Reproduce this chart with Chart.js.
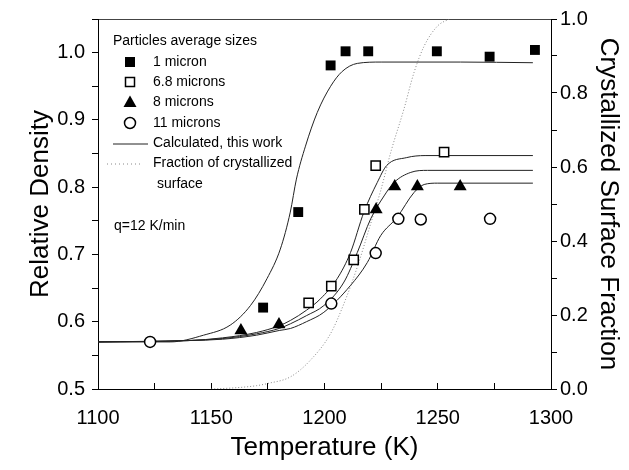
<!DOCTYPE html>
<html>
<head>
<meta charset="utf-8">
<script src="https://cdn.jsdelivr.net/npm/chart.js@4.4.1/dist/chart.umd.min.js"></script>
<style>
    html, body { margin: 0; padding: 0; background: #fff; }
    #wrap { width: 629px; height: 470px; }
</style>
</head>
<body>
<div id="wrap"><canvas id="grafico" width="629" height="470"></canvas></div>
<script>
const umMicronT = [1172.9, 1188.4, 1202.7, 1209.3, 1219.3, 1249.6, 1272.9, 1292.9];
const umMicronD = [0.621, 0.763, 0.981, 1.002, 1.002, 1.002, 0.994, 1.004];

const seisT = [1193.0, 1203.0, 1212.9, 1217.6, 1222.6, 1252.8];
const seisD = [0.628, 0.653, 0.692, 0.767, 0.832, 0.852];

const oitoT = [1163.1, 1179.9, 1222.8, 1231.0, 1241.0, 1259.9];
const oitoD = [0.587, 0.596, 0.767, 0.801, 0.801, 0.801];

const onzeT = [1123.0, 1203.0, 1222.6, 1232.6, 1242.5, 1273.1];
const onzeD = [0.570, 0.627, 0.702, 0.753, 0.752, 0.753];

// curvas calculadas
const calc1T = [1100, 1131.9, 1146.6, 1158.4, 1167.3, 1174.6, 1180.5, 1184.9, 1187.6, 1191.6, 1196.8, 1202.7, 1207.8, 1214.5, 1225, 1260, 1292];
const calc1D = [0.570, 0.570, 0.580, 0.595, 0.624, 0.664, 0.708, 0.763, 0.812, 0.861, 0.911, 0.950, 0.972, 0.984, 0.986, 0.986, 0.985];

const calc2T = [1100, 1140, 1155, 1170, 1180, 1185, 1192, 1198.2, 1205.6, 1211.5, 1217.4, 1223.3, 1227.4, 1236.3, 1244.4, 1292];
const calc2D = [0.570, 0.572, 0.576, 0.584, 0.594, 0.602, 0.617, 0.634, 0.664, 0.703, 0.763, 0.807, 0.832, 0.844, 0.847, 0.847];

const calc3T = [1100, 1140, 1155, 1170, 1180, 1185, 1192, 1199.7, 1208.6, 1214.5, 1220.4, 1226.3, 1230.7, 1238.1, 1245.5, 1292];
const calc3D = [0.570, 0.572, 0.575, 0.582, 0.590, 0.597, 0.609, 0.624, 0.659, 0.703, 0.753, 0.787, 0.807, 0.822, 0.825, 0.825];

const calc4T = [1100, 1140, 1155, 1170, 1180, 1185, 1192, 1199.7, 1211.5, 1218.9, 1224.8, 1232, 1239.5, 1244, 1250, 1292];
const calc4D = [0.570, 0.572, 0.574, 0.580, 0.587, 0.590, 0.600, 0.614, 0.654, 0.688, 0.728, 0.755, 0.792, 0.804, 0.806, 0.806];

// fracao de superficie cristalizada (eixo da direita)
const fracT = [1150, 1160, 1170, 1175, 1185, 1193.8, 1202.7, 1208.6, 1214.5, 1220.4, 1224.8, 1229.5, 1235.1, 1239.5, 1244, 1249.9, 1255];
const fracF = [0.0, 0.003, 0.009, 0.015, 0.033, 0.078, 0.150, 0.231, 0.330, 0.447, 0.536, 0.645, 0.757, 0.855, 0.927, 0.981, 1.0];

const fonte = '"Liberation Sans", Arial, Helvetica, sans-serif';

function pares(xs, ys) {
    return xs.map((x, i) => ({ x: x, y: ys[i] }));
}

function curva(xs, ys) {
    return {
        data: pares(xs, ys),
        showLine: true,
        borderColor: "#222",
        borderWidth: 1,
        pointRadius: 0,
        cubicInterpolationMode: "monotone",
        yAxisID: "y"
    };
}

const legendaPlugin = {
    id: "legenda",
    afterDraw(chart) {
        const ctx = chart.ctx;
        ctx.save();
        ctx.fillStyle = "#000";
        ctx.strokeStyle = "#000";
        ctx.font = "14px " + fonte;
        ctx.textBaseline = "middle";
        ctx.fillText("Particles average sizes", 113, 41);

        // marcadores
        ctx.fillRect(125, 57, 10, 10);
        ctx.lineWidth = 1.5;
        ctx.strokeRect(125.5, 77.5, 9, 9);
        ctx.beginPath();
        ctx.moveTo(130, 95.5);
        ctx.lineTo(136.5, 107);
        ctx.lineTo(123.5, 107);
        ctx.closePath();
        ctx.fill();
        ctx.beginPath();
        ctx.arc(130, 123, 5.5, 0, Math.PI * 2);
        ctx.stroke();

        ctx.fillText("1 micron", 153, 62);
        ctx.fillText("6.8 microns", 153, 82);
        ctx.fillText("8 microns", 153, 102);
        ctx.fillText("11 microns", 153, 123);

        ctx.lineWidth = 1;
        ctx.strokeStyle = "#222";
        ctx.beginPath();
        ctx.moveTo(113, 144);
        ctx.lineTo(148, 144);
        ctx.stroke();
        ctx.fillText("Calculated, this work", 153, 143);

        ctx.strokeStyle = "#888";
        ctx.setLineDash([1, 3]);
        ctx.beginPath();
        ctx.moveTo(107, 164);
        ctx.lineTo(142, 164);
        ctx.stroke();
        ctx.setLineDash([]);
        ctx.fillText("Fraction of crystallized", 153, 163);
        ctx.fillText("surface", 157, 184);

        ctx.fillText("q=12 K/min", 114, 226);
        ctx.restore();
    }
};

const ctx = document.getElementById("grafico").getContext("2d");
new Chart(ctx, {
    type: "scatter",
    data: {
        datasets: [
            {
                label: "11 microns",
                data: pares(onzeT, onzeD),
                pointStyle: "circle",
                pointRadius: 5.5,
                backgroundColor: "#fff",
                borderColor: "#000",
                borderWidth: 1.5,
                yAxisID: "y"
            },
            {
                label: "8 microns",
                data: pares(oitoT, oitoD),
                pointStyle: "triangle",
                pointRadius: 7.5,
                backgroundColor: "#000",
                borderColor: "#000",
                borderWidth: 0,
                yAxisID: "y"
            },
            {
                label: "6.8 microns",
                data: pares(seisT, seisD),
                pointStyle: "rect",
                pointRadius: 6.5,
                backgroundColor: "#fff",
                borderColor: "#000",
                borderWidth: 1.5,
                yAxisID: "y"
            },
            {
                label: "1 micron",
                data: pares(umMicronT, umMicronD),
                pointStyle: "rect",
                pointRadius: 7,
                backgroundColor: "#000",
                borderColor: "#000",
                borderWidth: 0,
                yAxisID: "y"
            },
            curva(calc1T, calc1D),
            curva(calc2T, calc2D),
            curva(calc3T, calc3D),
            curva(calc4T, calc4D),
            {
                label: "Fraction of crystallized surface",
                data: pares(fracT, fracF),
                showLine: true,
                borderColor: "#888",
                borderWidth: 1,
                borderDash: [1, 2],
                pointRadius: 0,
                cubicInterpolationMode: "monotone",
                yAxisID: "y2"
            }
        ]
    },
    options: {
        responsive: false,
        animation: false,
        devicePixelRatio: 1,
        layout: { padding: 0 },
        plugins: {
            legend: { display: false },
            tooltip: { enabled: false }
        },
        scales: {
            x: {
                type: "linear",
                position: "bottom",
                min: 1100,
                max: 1300,
                ticks: {
                    stepSize: 25,
                    autoSkip: false,
                    maxRotation: 0,
                    padding: 23,
                    color: "#000",
                    font: { size: 20, family: fonte },
                    callback: v => (v % 50 === 0 ? String(v) : "")
                },
                grid: { drawOnChartArea: false, drawTicks: true, tickLength: -6, color: "#000" },
                border: { color: "#000", width: 1 },
                title: {
                    display: true,
                    text: "Temperature (K)",
                    color: "#000",
                    font: { size: 26, family: fonte },
                    padding: 7
                },
                afterFit: s => { s.height = 81; }
            },
            xTop: {
                type: "linear",
                position: "top",
                min: 1100,
                max: 1300,
                ticks: { display: false },
                grid: { display: false, drawTicks: false },
                border: { display: true, color: "#444", width: 1 },
                afterFit: s => { s.height = 18; }
            },
            y: {
                type: "linear",
                position: "left",
                min: 0.5,
                max: 1.05,
                ticks: {
                    stepSize: 0.05,
                    autoSkip: false,
                    padding: 7,
                    color: "#000",
                    font: { size: 20, family: fonte },
                    callback: v => {
                        const r = Math.round(v * 100);
                        return (r % 10 === 0 && r <= 100) ? (r / 100).toFixed(1) : "";
                    }
                },
                grid: { drawOnChartArea: false, drawTicks: true, tickLength: 6, color: "#000" },
                border: { color: "#000", width: 1 },
                title: {
                    display: true,
                    text: "Relative Density",
                    color: "#000",
                    font: { size: 26, family: fonte },
                    padding: 25
                },
                afterFit: s => { s.width = 98; }
            },
            y2: {
                type: "linear",
                position: "right",
                min: 0,
                max: 1,
                ticks: {
                    stepSize: 0.1,
                    autoSkip: false,
                    padding: 3,
                    color: "#000",
                    font: { size: 20, family: fonte },
                    callback: v => {
                        const r = Math.round(v * 10);
                        return r % 2 === 0 ? (r / 10).toFixed(1) : "";
                    }
                },
                grid: { drawOnChartArea: false, drawTicks: true, tickLength: 6, color: "#000" },
                border: { color: "#000", width: 1 },
                title: {
                    display: true,
                    text: "Crystallized Surface Fraction",
                    color: "#000",
                    font: { size: 26, family: fonte },
                    padding: 5
                },
                afterFit: s => { s.width = 78; }
            }
        }
    },
    plugins: [legendaPlugin]
});
</script>
</body>
</html>
